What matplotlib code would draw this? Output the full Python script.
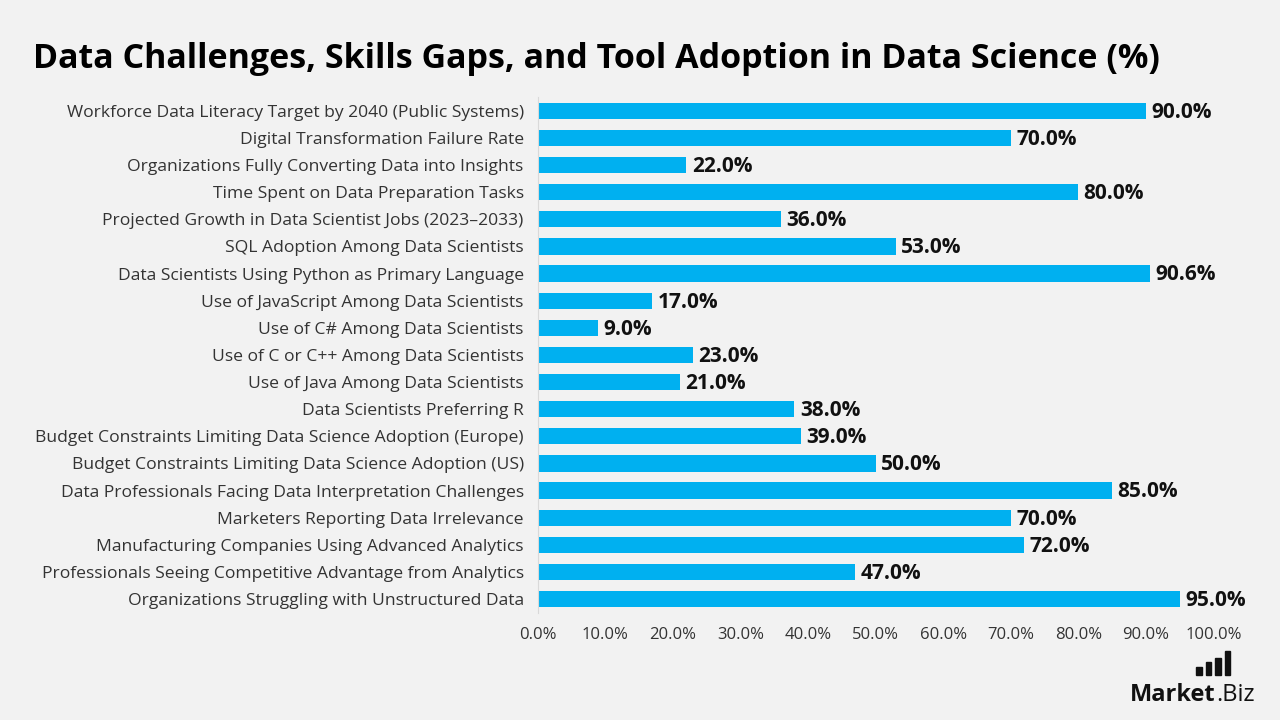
import matplotlib.pyplot as plt
from matplotlib.patches import Rectangle

categories = [
    "Workforce Data Literacy Target by 2040 (Public Systems)",
    "Digital Transformation Failure Rate",
    "Organizations Fully Converting Data into Insights",
    "Time Spent on Data Preparation Tasks",
    "Projected Growth in Data Scientist Jobs (2023\u20132033)",
    "SQL Adoption Among Data Scientists",
    "Data Scientists Using Python as Primary Language",
    "Use of JavaScript Among Data Scientists",
    "Use of C# Among Data Scientists",
    "Use of C or C++ Among Data Scientists",
    "Use of Java Among Data Scientists",
    "Data Scientists Preferring R",
    "Budget Constraints Limiting Data Science Adoption (Europe)",
    "Budget Constraints Limiting Data Science Adoption (US)",
    "Data Professionals Facing Data Interpretation Challenges",
    "Marketers Reporting Data Irrelevance",
    "Manufacturing Companies Using Advanced Analytics",
    "Professionals Seeing Competitive Advantage from Analytics",
    "Organizations Struggling with Unstructured Data",
]
values = [90.0, 70.0, 22.0, 80.0, 36.0, 53.0, 90.6, 17.0, 9.0, 23.0,
          21.0, 38.0, 39.0, 50.0, 85.0, 70.0, 72.0, 47.0, 95.0]
xticks = [0, 10, 20, 30, 40, 50, 60, 70, 80, 90, 100]

bg = "#f2f2f2"
bar_color = "#00b0f0"
plt.rcParams["font.family"] = ["Open Sans", "DejaVu Sans"]

fig = plt.figure(figsize=(12.8, 7.2), dpi=100, facecolor=bg)
ax = fig.add_axes([0.420, 0.149, 0.528, 0.716], facecolor=bg)

y = list(range(len(categories)))
ax.barh(y, values, height=0.6, color=bar_color, zorder=2)
for yi, v in zip(y, values):
    ax.text(v + 0.8, yi + 0.05, f"{v:.1f}%", va="center", ha="left",
            fontsize=15, fontweight="bold", color="#111111")

ax.set_ylim(len(categories) - 0.5, -0.5)
ax.set_xlim(0, 100)
ax.set_yticks(y)
ax.set_yticklabels(categories, fontsize=12.6, color="#333333")
ax.set_xticks(xticks)
ax.set_xticklabels([f"{t:.1f}%" for t in xticks], fontsize=12, color="#333333")
ax.tick_params(axis="both", length=0)
ax.tick_params(axis="y", pad=10)
ax.tick_params(axis="x", pad=10)
for s in ["top", "right", "bottom"]:
    ax.spines[s].set_visible(False)
ax.spines["left"].set_color("#d9d9d9")
ax.spines["left"].set_linewidth(0.8)

fig.text(0.026, 0.918, "Data Challenges, Skills Gaps, and Tool Adoption in Data Science (%)",
         fontsize=24.5, fontweight="bold", color="#000000", va="center", ha="left")

# logo
mk = fig.text(0.883, 0.026, "Market", fontsize=17, fontweight="bold", color="#111111",
              ha="left", va="baseline")
fig.add_artist(plt.Annotation(".Biz", xy=(1, 0), xycoords=mk, va="bottom", ha="left",
                              fontsize=17, color="#111111"))
for i, h in enumerate([0.012, 0.018, 0.024, 0.034]):
    fig.add_artist(Rectangle((0.9345 + i * 0.0075, 0.062), 0.0042, h,
                             transform=fig.transFigure, color="#111111"))

fig.savefig("out.png", dpi=100, facecolor=bg)
